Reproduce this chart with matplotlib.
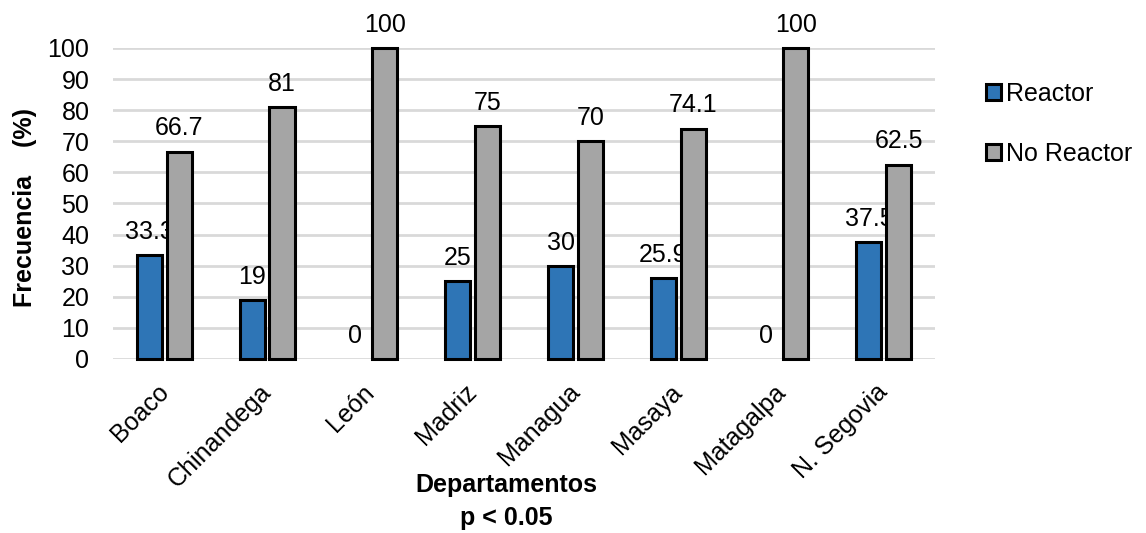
import numpy as np
import matplotlib
matplotlib.use("Agg")
import matplotlib.pyplot as plt
import matplotlib.transforms as mtransforms
from matplotlib.patches import Patch

plt.rcParams["font.family"] = ["Liberation Sans", "DejaVu Sans"]

departamentos = ["Boaco", "Chinandega", "León", "Madriz", "Managua",
                 "Masaya", "Matagalpa", "N. Segovia"]
reactor = [33.3, 19, 0, 25, 30, 25.9, 0, 37.5]
no_reactor = [66.7, 81, 100, 75, 70, 74.1, 100, 62.5]
series_names = ["Reactor", "No Reactor"]
colors = ["#2E75B6", "#A5A5A5"]

FS = 18

fig = plt.figure(figsize=(11.46, 5.33), dpi=100)
ax = fig.add_axes([0.0986, 0.3265, 0.7174, 0.5835])

x = np.arange(len(departamentos))
width = 0.245
offset = 0.145

for vals, off, col in [(reactor, -offset, colors[0]), (no_reactor, offset, colors[1])]:
    vals = np.array(vals, dtype=float)
    lw = np.where(vals > 0, 2.2, 0)
    ax.bar(x + off, vals, width, color=col, edgecolor="black",
           linewidth=lw, zorder=3, clip_on=False)
    for xi, v in zip(x + off, vals):
        ax.annotate(f"{v:g}", (xi, v), xytext=(0, 8), textcoords="offset points",
                    ha="center", va="bottom", fontsize=FS)

ax.set_xlim(-0.5, len(departamentos) - 0.5)
ax.set_ylim(0, 100)
ax.set_yticks(np.arange(0, 101, 10))
ax.yaxis.grid(True, color="#d9d9d9", linewidth=2, zorder=0)
ax.set_axisbelow(True)
for s in ax.spines.values():
    s.set_visible(False)
ax.tick_params(axis="both", length=0, labelsize=FS)
ax.tick_params(axis="y", pad=17)
ax.tick_params(axis="x", pad=15)
ax.set_xticks(x)
ax.set_xticklabels(departamentos, rotation=45, ha="right", va="top",
                   rotation_mode="anchor")
shift = mtransforms.ScaledTranslation(-8 / 100, 0, fig.dpi_scale_trans)
for lab in ax.get_xticklabels():
    lab.set_transform(lab.get_transform() + shift)

fig.text(25 / 1146, 1 - 207 / 533, "Frecuencia    (%)", rotation=90,
         ha="center", va="center", fontsize=FS, fontweight="bold")
fig.text(506 / 1146, 1 - 492 / 533, "Departamentos", ha="center",
         va="baseline", fontsize=FS, fontweight="bold")
fig.text(506 / 1146, 1 - 525 / 533, "p < 0.05", ha="center",
         va="baseline", fontsize=FS, fontweight="bold")

handles = [Patch(facecolor=c, edgecolor="black", linewidth=2.2) for c in colors]
fig.legend(handles, series_names, loc="center left",
           bbox_to_anchor=(0.841, 1 - 124 / 533), frameon=False, fontsize=FS,
           handlelength=0.6, handleheight=0.6, handletextpad=0.2,
           labelspacing=1.45)

fig.savefig("out.png", dpi=100)
